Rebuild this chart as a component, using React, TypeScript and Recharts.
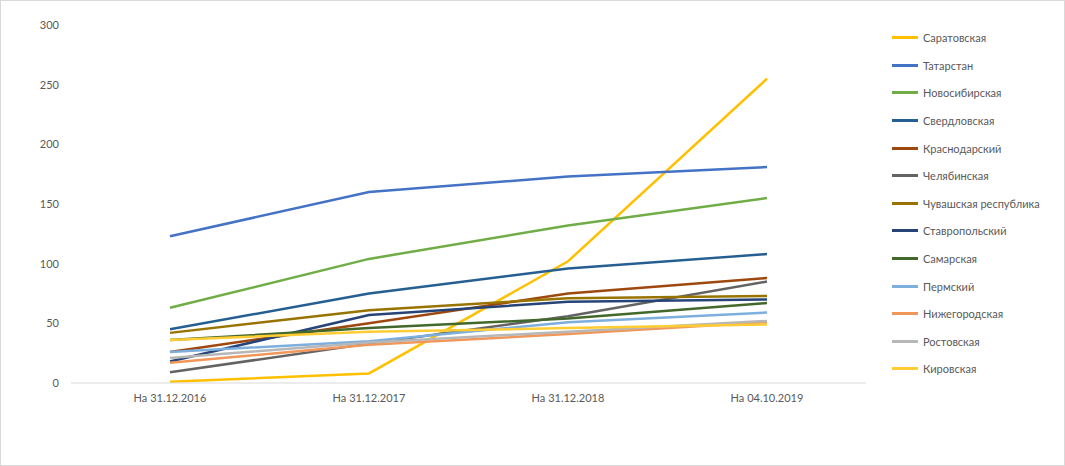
import { LineChart, Line, XAxis, YAxis, Legend } from "recharts";

const categories = ["На 31.12.2016", "На 31.12.2017", "На 31.12.2018", "На 04.10.2019"];
const yTicks = [0, 50, 100, 150, 200, 250, 300];

const regions = [
  "Саратовская",
  "Татарстан",
  "Новосибирская",
  "Свердловская",
  "Краснодарский",
  "Челябинская",
  "Чувашская республика",
  "Ставропольский",
  "Самарская",
  "Пермский",
  "Нижегородская",
  "Ростовская",
  "Кировская"
];

const colors = [
  "#FFC000",
  "#4472C4",
  "#70AD47",
  "#255E91",
  "#9E480E",
  "#636363",
  "#997300",
  "#264478",
  "#43682B",
  "#7CAFDD",
  "#F1975A",
  "#B7B7B7",
  "#FFCD33"
];

const saratov = [1, 8, 102, 255];
const tatarstan = [123, 160, 173, 181];
const novosibirsk = [63, 104, 132, 155];
const sverdlovsk = [45, 75, 96, 108];
const krasnodar = [26, 50, 75, 88];
const chelyabinsk = [9, 33, 56, 85];
const chuvash = [42, 61, 71, 73];
const stavropol = [18, 57, 68, 70];
const samara = [36, 46, 54, 67];
const perm = [26, 35, 51, 59];
const nizhny = [17, 32, 41, 51];
const rostov = [21, 34, 43, 52];
const kirov = [36, 43, 46, 49];

const series = [
  saratov, tatarstan, novosibirsk, sverdlovsk, krasnodar, chelyabinsk,
  chuvash, stavropol, samara, perm, nizhny, rostov, kirov
];

const data = categories.map((name, i) => {
  const row: Record<string, string | number> = { name };
  regions.forEach((r, k) => {
    row[r] = series[k][i];
  });
  return row;
});

const font = "Lato, 'Open Sans', sans-serif";

function LegendBox() {
  return (
    <div style={{ fontFamily: font, fontSize: 11, color: "#595959" }}>
      {regions.map((r, k) => (
        <div key={r} style={{ display: "flex", alignItems: "center", height: 27.6 }}>
          <span
            style={{
              display: "inline-block",
              width: 26,
              height: 3,
              background: colors[k],
              marginRight: 5
            }}
          />
          <span>{r}</span>
        </div>
      ))}
    </div>
  );
}

export default function App() {
  return (
    <div
      style={{
        position: "fixed",
        left: 0,
        top: 0,
        width: 1065,
        height: 466,
        background: "#fff",
        boxSizing: "border-box",
        border: "1px solid #D9D9D9"
      }}
    >
      <LineChart
        width={1063}
        height={464}
        data={data}
        margin={{ top: 24, right: 28, left: 0, bottom: 0 }}
      >
        <XAxis
          dataKey="name"
          axisLine={{ stroke: "#D9D9D9" }}
          tickLine={false}
          tick={{ fill: "#595959", fontSize: 11, fontFamily: font }}
          tickMargin={5}
          padding={{ left: 99, right: 99 }}
          height={82}
        />
        <YAxis
          domain={[0, 300]}
          ticks={yTicks}
          axisLine={false}
          tickLine={false}
          width={70}
          tickMargin={6}
          tick={{ fill: "#595959", fontSize: 11, fontFamily: font }}
        />
        <Legend
          layout="vertical"
          align="right"
          verticalAlign="top"
          content={() => <LegendBox />}
          wrapperStyle={{ left: 891, top: 23, width: 170 }}
        />
        {regions.map((r, k) => (
          <Line
            key={r}
            type="linear"
            dataKey={r}
            stroke={colors[k]}
            strokeWidth={2.5}
            dot={false}
            activeDot={false}
            isAnimationActive={false}
          />
        ))}
      </LineChart>
    </div>
  );
}
